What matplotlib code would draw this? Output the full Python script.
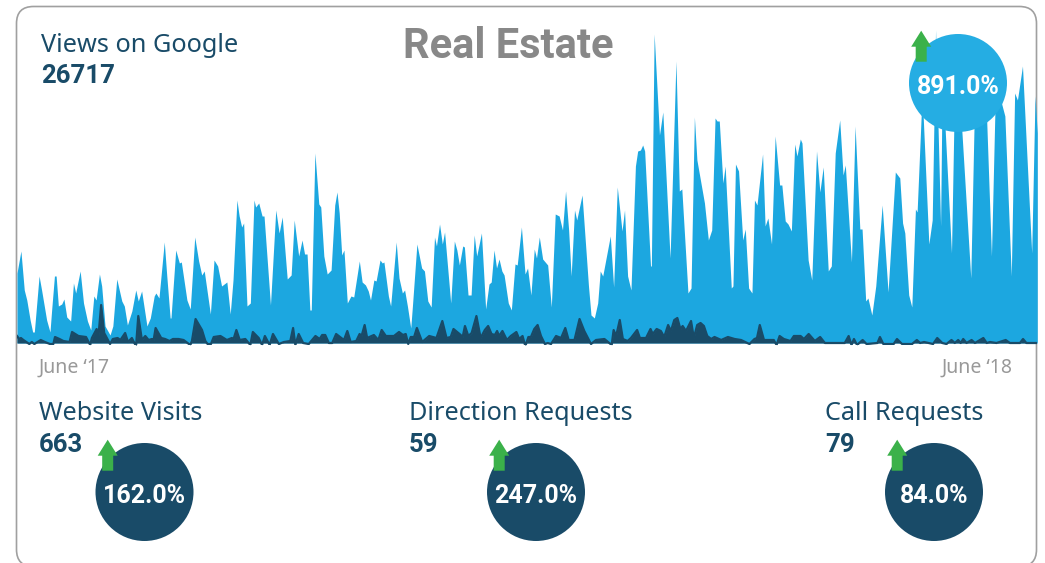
import matplotlib
matplotlib.use("Agg")
import matplotlib.pyplot as plt
from matplotlib.patches import Circle, FancyBboxPatch, Polygon

# views per day at the turning points of the curve
views_day = [
    0, 1.4, 2.6, 3.5, 4.7, 5.6, 6.2, 7.9, 8.8, 10.6, 11.8, 12.4, 13.4, 14.0, 14.8, 16.0, 16.8, 17.8, 19.2, 20.2,
    21.0, 22.6, 23.8, 25.2, 26.4, 27.5, 28.3, 29.5, 30.3, 31.5, 33.3, 34.3, 35.7, 37.5, 38.4, 39.5, 41.1, 42.5, 43.4, 44.6,
    46.5, 47.7, 49.1, 49.7, 50.8, 52.7, 53.6, 54.8, 55.1, 56.8, 58.1, 58.8, 60.8, 62.0, 63.6, 65.0, 66.1, 67.0, 69.2, 70.5,
    71.8, 73.2, 75.1, 76.3, 77.3, 78.7, 79.5, 80.4, 81.1, 82.3, 83.5, 84.8, 85.4, 86.5, 87.7, 88.4, 90.7, 92.6, 93.8, 94.9,
    96.7, 98.1, 99.2, 100.8, 102.0, 102.9, 103.8, 104.8, 105.3, 106.6, 108.0, 108.7, 109.8, 111.0, 112.4, 113.7, 114.5, 115.3, 116.2, 117.0,
    118.2, 119.5, 120.5, 122.5, 123.5, 124.7, 125.7, 126.5, 127.7, 128.5, 129.9, 130.7, 131.3, 132.9, 133.7, 135.7, 136.7, 137.9, 138.7, 139.7,
    140.9, 141.5, 143.1, 144.8, 145.8, 147.0, 148.2, 149.4, 150.1, 151.2, 152.2, 153.0, 155.2, 156.5, 157.4, 158.3, 159.5, 160.1, 161.4, 162.5,
    163.6, 164.5, 166.2, 167.7, 168.9, 169.7, 170.7, 171.6, 172.5, 173.5, 174.3, 175.8, 176.9, 178.2, 179.0, 180.5, 181.8, 182.7, 183.9, 185.1,
    185.9, 186.9, 188.1, 189.9, 191.2, 192.6, 194.0, 195.2, 196.3, 197.4, 198.3, 199.5, 200.3, 202.2, 204.5, 205.4, 206.6, 207.8, 208.7, 209.6,
    212.3, 213.5, 214.8, 216.5, 217.4, 218.5, 219.7, 221.3, 222.1, 223.1, 223.9, 224.6, 226.7, 227.0, 228.0, 229.9, 231.1, 233.7, 235.8, 237.0,
    237.9, 240.1, 241.2, 242.4, 243.3, 246.0, 247.4, 248.6, 249.8, 250.5, 251.3, 252.6, 253.4, 255.6, 256.2, 257.1, 258.2, 259.7, 260.6, 261.8,
    263.0, 263.9, 264.8, 266.8, 267.7, 268.7, 270.0, 271.3, 272.9, 273.7, 274.9, 275.9, 277.1, 278.3, 279.1, 280.3, 280.9, 283.1, 284.4, 286.1,
    287.3, 288.5, 290.3, 291.4, 292.8, 294.4, 295.6, 296.4, 298.6, 299.9, 301.6, 302.4, 303.7, 304.5, 305.9, 307.3, 309.6, 311.7, 314.3, 315.9,
    316.9, 317.7, 319.1, 320.2, 321.5, 322.1, 323.9, 326.3, 327.5, 328.7, 330.5, 331.1, 334.4, 335.6, 337.5, 341.3, 342.8, 346.4, 348.7, 350.2,
    353.5, 355.8, 357.0, 358.0, 359.8, 363.1, 364.3, 365.1,
]
views_val = [
    70, 92, 53, 43, 23, 11, 11, 67, 53, 23, 11, 33, 67, 67, 37, 39, 44, 26, 22, 60,
    50, 72, 40, 22, 13, 47, 43, 69, 57, 17, 8, 17, 64, 42, 37, 18, 32, 53, 42, 52,
    17, 25, 47, 50, 45, 101, 67, 25, 25, 93, 80, 81, 43, 34, 106, 82, 68, 72, 29, 83,
    77, 57, 61, 29, 63, 143, 127, 116, 120, 37, 40, 143, 136, 140, 127, 127, 38, 133, 110, 126,
    64, 68, 123, 87, 103, 89, 89, 33, 33, 190, 139, 136, 87, 69, 73, 138, 151, 130, 88, 93,
    40, 47, 46, 82, 61, 58, 52, 43, 63, 62, 83, 80, 81, 47, 37, 101, 65, 50, 53, 37,
    15, 37, 99, 75, 72, 42, 36, 106, 97, 119, 99, 111, 40, 102, 93, 78, 97, 96, 48, 48,
    108, 87, 110, 34, 59, 61, 93, 75, 84, 72, 68, 40, 33, 79, 78, 116, 69, 75, 48, 94,
    85, 106, 84, 78, 36, 129, 127, 113, 152, 113, 67, 133, 123, 148, 57, 28, 25, 40, 72, 67,
    107, 56, 156, 112, 133, 67, 53, 177, 192, 193, 198, 192, 77, 77, 309, 208, 231, 85, 282, 152,
    154, 50, 55, 226, 183, 140, 103, 113, 225, 222, 222, 160, 177, 55, 57, 179, 172, 103, 114, 55,
    50, 143, 138, 189, 117, 125, 99, 207, 158, 158, 122, 119, 112, 199, 187, 204, 200, 83, 63, 192,
    151, 176, 72, 77, 190, 223, 168, 178, 81, 217, 114, 114, 42, 45, 28, 57, 138, 51, 171, 165,
    120, 110, 48, 36, 134, 131, 250, 99, 123, 313, 117, 270, 90, 270, 240, 65, 260, 270, 87, 262,
    227, 67, 250, 243, 277, 90, 247, 210,
]

# actions per day, the dark area along the bottom
actions_day = [
    0, 0.8, 1.4, 2.3, 4.4, 5.3, 6.2, 8.5, 10, 11.8, 13, 13.6, 15.2, 16.6, 18.8, 19.7, 22, 24.7, 26.2, 26.8,
    28.5, 29.1, 30.1, 31.2, 33.3, 34.3, 36, 37, 38.7, 39.7, 41.1, 42, 42.6, 43.4, 44.7, 45.9, 47.1, 48.3, 48.9, 49.6,
    51.6, 53, 54.6, 55.8, 57.8, 59.6, 62, 62.6, 63.9, 66.2, 67.4, 68.2, 69.4, 70.4, 72.8, 75.1, 76.9, 77.5, 78.5, 79.7,
    81.7, 83.5, 84.4, 86.5, 87.7, 88.7, 90.4, 91.6, 93.7, 95.5, 97.8, 98.8, 99.6, 100.8, 102.4, 104.4, 106.8, 108.3, 109.2, 110.3,
    111.6, 112.8, 114.2, 117, 118.2, 119.4, 121.4, 122.6, 123.3, 124.4, 125.3, 127.7, 129.3, 130.5, 132, 134.9, 136.7, 138.1, 139.1, 140,
    140.9, 142.1, 143.1, 145, 147.5, 150.1, 152.2, 153.7, 155.2, 156.2, 158.8, 159.4, 160.3, 161.5, 162.7, 164.4, 165.9, 167.4, 168.6, 169.8,
    171, 171.8, 172.5, 173.7, 175.3, 176.7, 178.7, 179.7, 180.9, 181.9, 183, 183.9, 185.1, 186.3, 187.5, 188.9, 189.9, 191.1, 192.9, 194.7,
    196.2, 197.4, 199.5, 201.3, 203, 205.4, 207.2, 210.2, 212.8, 213.5, 214.4, 215.7, 216.8, 218.5, 219.7, 221.9, 222.9, 225.1, 226.7, 227.5,
    228.9, 230.4, 231.6, 233, 234, 235.2, 236.3, 237.4, 238.2, 239.4, 241.2, 242.2, 243.4, 244.6, 245.8, 247, 248.4, 249.6, 252, 254.4,
    256.8, 259.1, 262.1, 263.9, 264.8, 265.8, 267.3, 270.8, 271.8, 272.9, 274.4, 276.8, 278, 280.4, 281.6, 283.3, 285.5, 287.4, 289.1, 296.2,
    297.6, 298.6, 299.5, 300.6, 302.6, 304, 307.9, 308.8, 310, 313.7, 314.9, 316.7, 320.3, 322, 323.2, 324.6, 327.8, 329.3, 331.1, 332.6,
    334.4, 335.6, 336.8, 337.7, 338.6, 339.8, 341.6, 342.8, 345.8, 347, 348.2, 350.5, 353.8, 355.3, 358.9, 360, 361.2, 365.1,
]
actions_val = [
    7, 4, 5, 3, -1, 1, -1, 3, 1, -1, -1, 6, 4, 2, 1, 11, 7, 6, -2, 5,
    14, 5, 38, 10, -1, 4, 5, 3, 10, 1, 5, 0, -3, 27, 3, 7, 3, 4, 3, 15,
    5, 4, 2, 4, 4, 3, -2, 2, 24, 13, 2, -1, -1, 6, 7, 3, 5, 4, 13, 3,
    4, -2, 11, 5, -2, 7, -2, 9, -1, 1, 2, 15, -2, 9, 0, -1, 7, 4, 8, 8,
    0, 0, 9, 3, 12, 1, 2, 9, 7, 18, 5, 8, 3, 13, 7, 7, 11, 8, 9, -1,
    6, 6, 15, 1, 7, 5, 22, 5, 6, 14, 8, 5, 17, 7, 10, 27, 5, 13, 17, 9,
    8, 12, 7, 12, 3, 7, 11, 4, 7, -3, 6, 6, 14, 18, 7, -1, 0, -1, 7, 5,
    15, 3, 3, 24, 12, -1, 3, 4, -2, 13, 7, 23, 4, 2, 5, 13, 5, 5, 14, 9,
    14, 12, 6, 18, 12, 23, 25, 14, 17, 12, 22, 5, 18, 20, 17, 7, 4, 6, 3, 6,
    4, 3, -1, 4, 5, 18, 3, 3, -2, 7, 4, 2, 7, 7, 4, 9, 2, 6, 0, 0,
    7, -2, 4, -2, 3, -1, 0, 6, -1, -1, 4, -1, -1, 3, 0, 1, -1, 5, 0, -1,
    3, 0, 3, 0, 4, 0, 3, 0, 5, 0, 1, 0, 3, 0, 0, 4, 0, 0,
]

stat_labels = ["Website Visits", "Direction Requests", "Call Requests"]
stat_values = ["663", "59", "79"]
stat_changes = ["162.0%", "247.0%", "84.0%"]
stat_label_x = [39, 409, 825]
stat_circle_x = [144.5, 536, 934]

DARK = "#194B68"
BLUE = "#1CA7E0"
BADGE = "#25ADE3"
GREEN = "#3BB14A"
GREY = "#999999"
BOLD_FONT = "Roboto"

plt.rcParams["font.family"] = ["Noto Sans", "DejaVu Sans"]

fig = plt.figure(figsize=(10.45, 5.63), dpi=100)


def px_axes(zorder):
    ax = fig.add_axes([0, 0, 1, 1], zorder=zorder)
    ax.set_xlim(0, 1045)
    ax.set_ylim(563, 0)
    ax.axis("off")
    ax.patch.set_alpha(0)
    return ax


def badge(ax, x, y, text, color):
    ax.add_patch(Circle((x, y), 49, color=color, lw=0))
    tip_x = x - 36.8
    tip_y = y - 52.3
    pts = [
        (tip_x, tip_y), (tip_x + 10, tip_y + 16), (tip_x + 5.5, tip_y + 16), (tip_x + 5.5, tip_y + 31),
        (tip_x - 5.5, tip_y + 31), (tip_x - 5.5, tip_y + 16), (tip_x - 10, tip_y + 16),
    ]
    ax.add_patch(Polygon(pts, closed=True, color=GREEN, lw=0))
    ax.text(x, y + 11, text, color="white", fontsize=18, fontweight="bold", family=BOLD_FONT,
            ha="center", va="baseline")


back = px_axes(0)
back.add_patch(FancyBboxPatch((16.5, 6.5), 1020, 560, boxstyle="round,pad=0,rounding_size=17",
                              fc="white", ec="#A0A0A0", lw=1.2, clip_on=True))

# 1 value unit is one pixel high here, the baseline sits at y=343
chart = fig.add_axes([17 / 1045, (563 - 345) / 563, 1020 / 1045, 322 / 563], zorder=1)
chart.set_xlim(0, 365)
chart.set_ylim(-2, 320)
chart.axis("off")
chart.fill_between(views_day, views_val, 0, color=BLUE, lw=0)
chart.fill_between(actions_day, actions_val, 0, color=DARK, lw=0)
chart.plot(actions_day, actions_val, color=DARK, lw=1.6)

top = px_axes(2)
top.text(41, 52, "Views on Google", color=DARK, fontsize=18.2, va="baseline")
top.text(41, 83, "26717", color=DARK, fontsize=18.5, fontweight="bold", family=BOLD_FONT, va="baseline")
top.text(403, 58, "Real Estate", color="#888888", fontsize=30, fontweight="bold", family=BOLD_FONT, va="baseline")
top.text(39, 373, "June ‘17", color=GREY, fontsize=14, va="baseline")
top.text(1013, 373, "June ‘18", color=GREY, fontsize=14, ha="right", va="baseline")

badge(top, 958, 83, "891.0%", BADGE)
for label, value, change, lx, cx in zip(stat_labels, stat_values, stat_changes, stat_label_x, stat_circle_x):
    top.text(lx, 420, label, color=DARK, fontsize=18.2, va="baseline")
    top.text(lx, 452, value, color=DARK, fontsize=18.5, fontweight="bold", family=BOLD_FONT, va="baseline")
    badge(top, cx, 492, change, DARK)

fig.savefig("out.png", dpi=100)
